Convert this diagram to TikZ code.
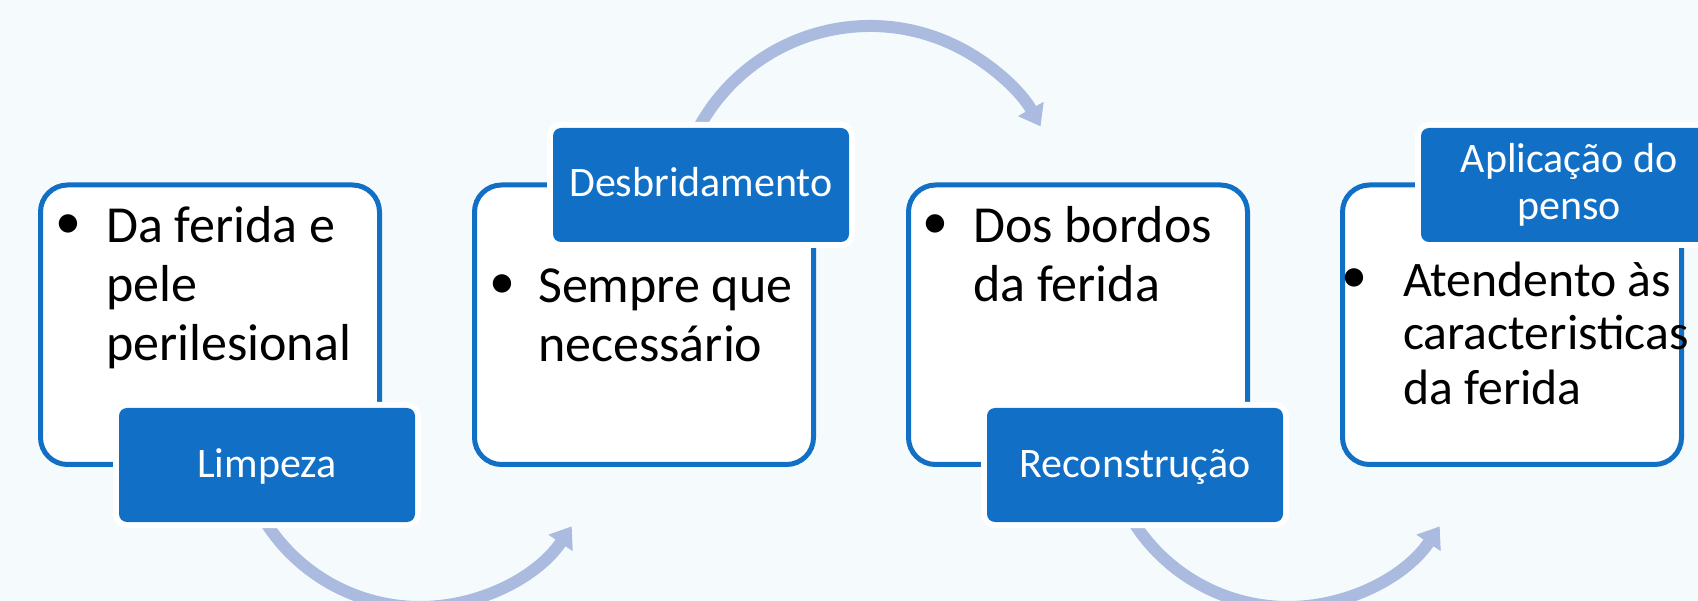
\documentclass[tikz,border=0pt]{standalone}
\usepackage{fontspec}
\setmainfont{Carlito}
\usetikzlibrary{arrows.meta}
\definecolor{bgc}{RGB}{245,250,253}
\definecolor{boxblue}{RGB}{17,112,198}
\definecolor{arcc}{RGB}{171,187,223}
\begin{document}
\begin{tikzpicture}[x=1pt,y=1pt,
  panel/.style={draw=boxblue, line width=5pt, fill=white, rounded corners=27pt,
    minimum width=339pt, minimum height=279.5pt, inner sep=0pt},
  tag/.style={fill=boxblue, rounded corners=8pt, minimum width=296pt,
    minimum height=114pt, inner sep=0pt, preaction={draw=white, line width=12pt}},
  tagtext/.style={text=white, font=\fontsize{42}{47}\selectfont, anchor=base, inner sep=0pt},
  body/.style={font=\fontsize{52}{59}\selectfont, anchor=base west, inner sep=0pt},
  bodys/.style={font=\fontsize{49.7}{54}\selectfont, anchor=base west, inner sep=0pt},
  dot/.style={font=\fontsize{52}{59}\selectfont, inner sep=0pt},
  flow/.style={draw=arcc, line width=12pt, -{Triangle[length=20pt,width=28pt]}}
]
\useasboundingbox (0,0) rectangle (1698,-601);
\clip (0,0) rectangle (1698,-601);
\fill[bgc] (0,0) rectangle (1698,-601);

% arcs
\path (420,-424) ++(211:183) coordinate (a1s);
\draw[flow] (a1s) arc[start angle=211, end angle=326, radius=183];
\path (1288,-424) ++(211:183) coordinate (a3s);
\draw[flow] (a3s) arc[start angle=211, end angle=326, radius=183];
\path (870,-221) ++(153:195) coordinate (a2s);
\draw[flow] (a2s) arc[start angle=153, end angle=29, radius=195];

% panels
\node[panel] (p1) at (210,-324.75) {};
\node[panel] (p2) at (644,-324.75) {};
\node[panel] (p3) at (1078,-324.75) {};
\node[panel] (p4) at (1512,-324.75) {};

% tags
\node[tag] (t1) at (267,-465) {};
\node[tag] (t2) at (701,-185) {};
\node[tag] (t3) at (1135,-465) {};
\node[tag] (t4) at (1569,-185) {};

\node[tagtext] (t1a) at (267,-477) {Limpeza};
\node[tagtext] (t2a) at (701,-197) {Desbridamento};
\node[tagtext] (t3a) at (1135,-477) {Reconstrução};
\node[tagtext] (t4a) at (1569,-173) {Aplicação do};
\node[tagtext] (t4b) at (1569,-220) {penso};

% body texts
\node[dot] (d1) at (68,-227) {•};
\node[body] (x1a) at (106,-243) {Da ferida e};
\node[body] (x1b) at (106,-302) {pele};
\node[body] (x1c) at (106,-361) {perilesional};

\node[dot] (d2) at (502,-287) {•};
\node[body] (x2a) at (538,-303) {Sempre que};
\node[body] (x2b) at (538,-362) {necessário};

\node[dot] (d3) at (935,-227) {•};
\node[body] (x3a) at (973,-243) {Dos bordos};
\node[body] (x3b) at (973,-302) {da ferida};

\node[dot] (d4) at (1354,-281) {•};
\node[bodys] (x4a) at (1403,-297) {Atendento às};
\node[bodys] (x4b) at (1403,-350) {caracteristicas};
\node[bodys] (x4c) at (1403,-405) {da ferida};
\end{tikzpicture}
\end{document}
